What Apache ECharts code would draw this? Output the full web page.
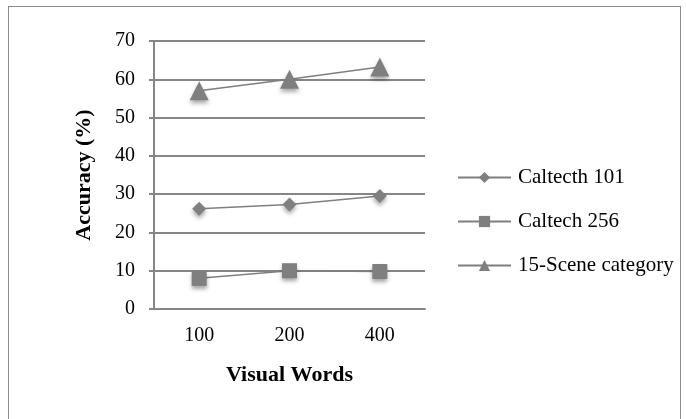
<!DOCTYPE html>
<html>
<head>
<meta charset="utf-8">
<script src="https://cdn.jsdelivr.net/npm/echarts@6/dist/echarts.min.js"></script>
<style>
  html, body { margin: 0; padding: 0; background: #fff; }
  #frame { position: absolute; left: 8px; top: 6px; width: 673px; height: 430px;
           border: 1.5px solid #8c8c8c; box-sizing: border-box; }
  #chart { position: absolute; left: 0; top: 0; width: 686px; height: 419px; }
</style>
</head>
<body>
<div id="frame"></div>
<div id="chart"></div>
<script>
// Visual vocabulary size vs. accuracy on three benchmarks
const visualWords = ['100', '200', '400'];
const caltech101 = [26.2, 27.3, 29.5];
const caltech256 = [8.0, 10.0, 9.8];
const scene15 = [57.0, 60.0, 63.2];

const font = '"Liberation Serif", "Times New Roman", serif';
const grey = '#7f7f7f';

const chart = echarts.init(document.getElementById('chart'), null, { renderer: 'canvas' });

function lineSeries(name, data, symbol, size) {
  return {
    name: name,
    type: 'line',
    data: data,
    symbol: symbol,
    symbolSize: size,
    lineStyle: { color: grey, width: 1.5 },
    itemStyle: {
      color: grey,
      shadowBlur: 4,
      shadowColor: 'rgba(0,0,0,0.35)',
      shadowOffsetY: 3
    },
    emphasis: { disabled: true },
    animation: false
  };
}

chart.setOption({
  animation: false,
  grid: { left: 154, right: 261, top: 41, bottom: 110, containLabel: false },
  legend: {
    orient: 'vertical',
    left: 452,
    top: 162,
    itemWidth: 53,
    itemHeight: 14,
    itemGap: 23,
    textStyle: { fontFamily: font, fontSize: 21, color: '#000', padding: [0, 0, 0, 2] },
    data: ['Caltecth 101', 'Caltech 256', '15-Scene category']
  },
  xAxis: {
    type: 'category',
    data: visualWords,
    boundaryGap: true,
    name: 'Visual Words',
    nameLocation: 'middle',
    nameGap: 55,
    nameTextStyle: { fontFamily: font, fontSize: 22, fontWeight: 'bold', color: '#000' },
    axisLine: { lineStyle: { color: '#868686', width: 2 } },
    axisTick: { show: false },
    axisLabel: { fontFamily: font, fontSize: 20, color: '#000', margin: 17 },
    splitLine: { show: false }
  },
  yAxis: {
    type: 'value',
    min: 0,
    max: 70,
    interval: 10,
    name: 'Accuracy (%)',
    nameLocation: 'middle',
    nameGap: 59,
    nameTextStyle: { fontFamily: font, fontSize: 22, fontWeight: 'bold', color: '#000' },
    axisLine: { show: true, lineStyle: { color: '#868686', width: 2 } },
    axisTick: { show: true, inside: false, length: 5, lineStyle: { color: '#868686', width: 2 } },
    axisLabel: { fontFamily: font, fontSize: 20, color: '#000', margin: 19 },
    splitLine: { show: true, lineStyle: { color: '#868686', width: 2 } }
  },
  series: [
    lineSeries('Caltecth 101', caltech101, 'diamond', 14),
    lineSeries('Caltech 256', caltech256, 'rect', 15),
    lineSeries('15-Scene category', scene15, 'triangle', 19)
  ]
});
</script>
</body>
</html>
